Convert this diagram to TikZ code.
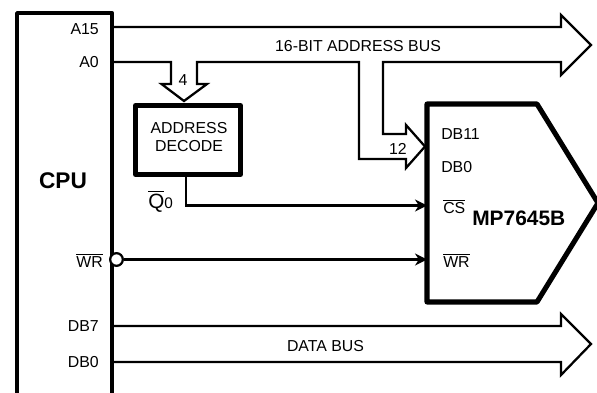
\documentclass[tikz,border=0pt]{standalone}
\usepackage{fontspec}
\setmainfont{Liberation Sans}
\usetikzlibrary{arrows.meta}
\newcommand{\ovl}[1]{$\overline{\mbox{#1}}$}
\tikzset{
  thickbox/.style={draw=black,line width=3.3pt,line join=round},
  heavybox/.style={draw=black,line width=3.8pt,line join=round},
  bus/.style={draw=black,line width=1.7pt,line join=miter},
  sig/.style={draw=black,line width=1.7pt,-{Stealth[length=9pt,width=9pt]}},
  lbl/.style={inner sep=0pt,font=\fontsize{11.9}{13}\selectfont,text=black},
  lblR/.style={lbl,anchor=base east},
  lblL/.style={lbl,anchor=base west},
  lblC/.style={lbl,anchor=base},
}
\begin{document}
\begin{tikzpicture}[x=0.75pt,y=-0.75pt]
\useasboundingbox (0,0) rectangle (597,393);
\clip (0,0) rectangle (597,393);
% CPU block
\node[thickbox,anchor=north west,minimum width=71.25pt,minimum height=288pt,inner sep=0pt] (cpu) at (15,11) {};
% Decoder block
\node[heavybox,anchor=north west,minimum width=78.75pt,minimum height=51.75pt,inner sep=0pt] (dec) at (133,103) {};
% DAC block
\coordinate (mpa) at (427,104);
\coordinate (mpb) at (537,104);
\coordinate (mpc) at (598,203);
\coordinate (mpd) at (537,302);
\coordinate (mpe) at (427,302);
\draw[heavybox] (mpa) -- (mpb) -- (mpc) -- (mpd) -- (mpe) -- cycle;
% Address bus
\draw[bus] (112,27) -- (561,27) -- (561,15) -- (591,45) -- (561,75) -- (561,62) -- (383,62) -- (383,134) -- (406,134) -- (406,125) -- (425,146.5) -- (406,168) -- (406,159) -- (359,159) -- (359,62) -- (197,62) -- (197,84) -- (207,84) -- (184,101) -- (161.5,84) -- (171,84) -- (171,62) -- (112,62);
% Data bus
\draw[bus] (112,326) -- (561,326) -- (561,314) -- (591,344) -- (561,375) -- (561,362) -- (112,362);
% Control signals
\coordinate (csin) at (427,205.5);
\coordinate (wrin) at (427,259.5);
\draw[sig] ([xshift=-1.3pt]dec.south) |- (csin);
\node[draw=black,line width=1.7pt,circle,minimum size=9.5pt,inner sep=0pt,fill=white] (bub) at (116.5,259.5) {};
\draw[sig] (bub) -- (wrin);
% Labels
\node[lblR] (a15) at (99,34) {A15};
\node[lblR] (a0) at (99,67) {A0};
\node[lblR] (wr1) at (103,267) {\ovl{WR}};
\node[lblR] (db7) at (99,331) {DB7};
\node[lblR] (db0) at (99,367) {DB0};
\node[lbl,anchor=base,font=\fontsize{17}{19}\bfseries\selectfont] (cpulbl) at (63,188) {CPU};
\node[lblC] (abus) at (358,51) {16-BIT ADDRESS BUS};
\node[lblC] (dbus) at (325.5,351) {DATA BUS};
\node[lblC] (four) at (183,85) {4};
\node[lblC] (addr) at (189,133) {ADDRESS};
\node[lblC] (deco) at (189,151) {DECODE};
\node[lblL,font=\fontsize{15.5}{17}\selectfont] (qlbl) at (148,208) {\ovl{Q}\fontsize{11.5}{12}\selectfont 0};
\node[lblL] (db11) at (441,139) {DB11};
\node[lblL] (db0b) at (441,172) {DB0};
\node[lblC] (twelve) at (398,154) {12};
\node[lblL] (cs) at (443,213) {\ovl{CS}};
\node[lblL] (wr2) at (443,267) {\ovl{WR}};
\node[lbl,anchor=base west,font=\fontsize{15.7}{18}\bfseries\selectfont] (mp) at (472,225) {MP7645B};
\end{tikzpicture}
\end{document}
